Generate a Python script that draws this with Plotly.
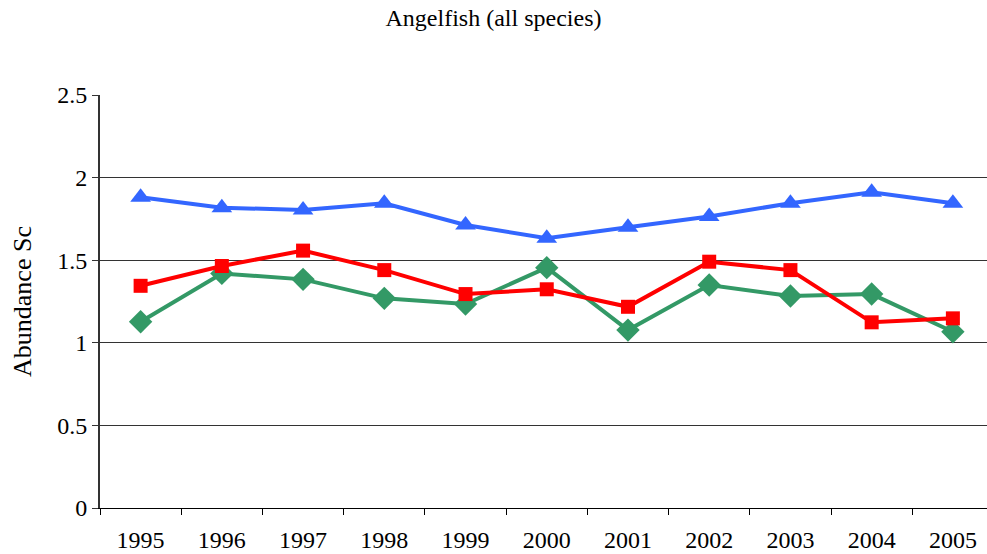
import plotly.graph_objects as go

years = ["1995", "1996", "1997", "1998", "1999", "2000", "2001", "2002", "2003", "2004", "2005"]
blue_vals = [1.881, 1.818, 1.804, 1.845, 1.713, 1.633, 1.700, 1.764, 1.845, 1.911, 1.845]
red_vals = [1.345, 1.465, 1.558, 1.440, 1.295, 1.324, 1.218, 1.491, 1.440, 1.124, 1.148]
green_vals = [1.127, 1.420, 1.384, 1.269, 1.235, 1.455, 1.077, 1.350, 1.283, 1.295, 1.067]
y_ticks = [0, 0.5, 1, 1.5, 2, 2.5]
y_tick_text = ["0", "0.5", "1", "1.5", "2", "2.5"]

FONT = "Liberation Serif, Times New Roman, serif"

fig = go.Figure()
fig.add_trace(go.Scatter(
    x=years, y=green_vals, mode="lines+markers",
    line=dict(color="#339966", width=4),
    marker=dict(symbol="diamond", size=18, color="#339966"),
    showlegend=False,
))
fig.add_trace(go.Scatter(
    x=years, y=red_vals, mode="lines+markers",
    line=dict(color="#FF0000", width=4),
    marker=dict(symbol="square", size=14, color="#FF0000"),
    showlegend=False,
))
fig.add_trace(go.Scatter(
    x=years, y=blue_vals, mode="lines+markers",
    line=dict(color="#3366FF", width=4),
    marker=dict(symbol="triangle-up", size=18, color="#3366FF"),
    showlegend=False,
))

fig.update_layout(
    width=987, height=554,
    margin=dict(l=100, r=0, t=95, b=46),
    paper_bgcolor="white", plot_bgcolor="white",
    font=dict(family=FONT, size=22, color="black"),
    title=dict(text="Angelfish (all species)", x=0.5, xanchor="center",
               y=1 - 18 / 554, yanchor="middle", font=dict(family=FONT, size=24)),
)
fig.update_xaxes(
    type="category", range=[-0.5, 10.42],
    showgrid=False, showline=True, linecolor="black", linewidth=1,
    ticks="outside", tickson="boundaries", ticklen=6, tickcolor="black",
    tickfont=dict(family=FONT, size=24), ticklabelstandoff=10,
)
fig.update_yaxes(
    range=[0, 2.5], tickvals=y_ticks, ticktext=y_tick_text,
    showgrid=True, gridcolor="#333333", gridwidth=1,
    showline=True, linecolor="#333333", linewidth=2,
    ticks="outside", ticklen=6, tickcolor="#333333",
    tickfont=dict(family=FONT, size=24), ticklabelstandoff=0,
    zeroline=False,
    title=dict(text="Abundance Sc", font=dict(family=FONT, size=26), standoff=18),
)

fig.write_html("out.html")
